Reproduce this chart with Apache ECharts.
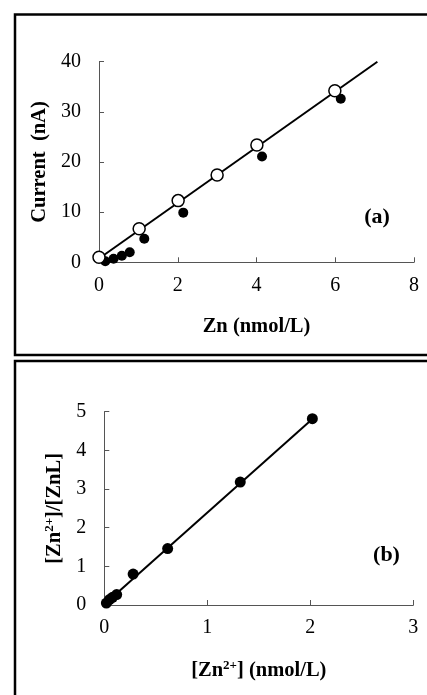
<!DOCTYPE html>
<html><head><meta charset="utf-8">
<script src="https://cdn.jsdelivr.net/npm/echarts@6/dist/echarts.min.js"></script>
<style>html,body{margin:0;padding:0;background:#fff;}#c{width:427px;height:695px;}</style>
</head><body><div id="c"></div>
<script>
// Panel (a)
const xTicksA = [0, 2, 4, 6, 8];
const yTicksA = [0, 10, 20, 30, 40];
const openA = [[0.0, 1.0], [1.02, 6.7], [2.01, 12.3], [3.0, 17.4], [4.01, 23.4], [5.99, 34.2]];
const filledA = [[0.16, 0.2], [0.37, 0.7], [0.58, 1.3], [0.78, 2.0], [1.15, 4.7], [2.14, 9.9], [4.14, 21.1], [6.14, 32.6]];
const fitA = [[0.1, 1.3], [7.07, 40]];
// Panel (b)
const xTicksB = [0, 1, 2, 3];
const yTicksB = [0, 1, 2, 3, 4, 5];
const filledB = [[0.02, 0.05], [0.05, 0.14], [0.08, 0.2], [0.12, 0.27], [0.28, 0.8], [0.615, 1.46], [1.32, 3.18], [2.02, 4.82]];
const fitB = [[0.01, 0.04], [2.02, 4.81]];

const FONT = '"Liberation Serif", "Times New Roman", serif';
const axisCommon = {
  axisLine: {show: true, lineStyle: {color: '#555', width: 1}},
  axisTick: {show: true, inside: true, length: 5, lineStyle: {color: '#555', width: 1}},
  splitLine: {show: false},
  axisLabel: {color: '#000', fontFamily: FONT, fontSize: 20},
  nameLocation: 'middle',
  nameTextStyle: {color: '#000', fontFamily: FONT, fontSize: 20.5, fontWeight: 'bold'}
};
const supRich = {
  sup: {fontSize: 13, fontFamily: FONT, fontWeight: 'bold', color: '#000', verticalAlign: 'bottom', lineHeight: 13, padding: [0, 0, 9, 0]},
  n: {fontSize: 20.5, fontFamily: FONT, fontWeight: 'bold', color: '#000', verticalAlign: 'bottom', lineHeight: 22}
};

const chart = echarts.init(document.getElementById('c'));
chart.setOption({
  backgroundColor: '#fff',
  animation: false,
  grid: [
    {left: 99, top: 61.7, width: 315, height: 200.6},
    {left: 104.3, top: 411.7, width: 309, height: 193.3}
  ],
  xAxis: [
    Object.assign({}, axisCommon, {gridIndex: 0, type: 'value', min: xTicksA[0], max: xTicksA[xTicksA.length - 1], interval: 2,
      axisLabel: Object.assign({}, axisCommon.axisLabel, {margin: 13}),
      name: 'Zn (nmol/L)', nameGap: 54}),
    Object.assign({}, axisCommon, {gridIndex: 1, type: 'value', min: xTicksB[0], max: xTicksB[xTicksB.length - 1], interval: 1,
      axisLabel: Object.assign({}, axisCommon.axisLabel, {margin: 13}),
      name: '{n|[Zn}{sup|2+}{n|] (nmol/L)}', nameGap: 54,
      nameTextStyle: Object.assign({}, axisCommon.nameTextStyle, {rich: supRich})})
  ],
  yAxis: [
    Object.assign({}, axisCommon, {gridIndex: 0, type: 'value', min: yTicksA[0], max: yTicksA[yTicksA.length - 1], interval: 10,
      axisLabel: Object.assign({}, axisCommon.axisLabel, {margin: 18}),
      name: 'Current  (nA)', nameGap: 49}),
    Object.assign({}, axisCommon, {gridIndex: 1, type: 'value', min: yTicksB[0], max: yTicksB[yTicksB.length - 1], interval: 1,
      axisLabel: Object.assign({}, axisCommon.axisLabel, {margin: 18}),
      name: '{n|[Zn}{sup|2+}{n|]/[ZnL]}', nameGap: 37,
      nameTextStyle: Object.assign({}, axisCommon.nameTextStyle, {rich: supRich})})
  ],
  series: [
    {type: 'line', xAxisIndex: 0, yAxisIndex: 0, data: fitA, symbol: 'none', lineStyle: {color: '#000', width: 2}, z: 2},
    {type: 'scatter', xAxisIndex: 0, yAxisIndex: 0, data: filledA, symbol: 'circle', symbolSize: 10, itemStyle: {color: '#000', opacity: 1}, z: 3},
    {type: 'scatter', xAxisIndex: 0, yAxisIndex: 0, data: openA, symbol: 'circle', symbolSize: 12, itemStyle: {color: '#fff', borderColor: '#000', borderWidth: 1.5, opacity: 1}, z: 4},
    {type: 'line', xAxisIndex: 1, yAxisIndex: 1, data: fitB, symbol: 'none', lineStyle: {color: '#000', width: 2}, z: 2},
    {type: 'scatter', xAxisIndex: 1, yAxisIndex: 1, data: filledB, symbol: 'circle', symbolSize: 11, itemStyle: {color: '#000', opacity: 1}, z: 3}
  ],
  graphic: [
    {type: 'rect', shape: {x: 15, y: 14.5, width: 440, height: 340.5}, style: {fill: 'none', stroke: '#000', lineWidth: 2.5}, silent: true},
    {type: 'rect', shape: {x: 15, y: 361, width: 440, height: 400}, style: {fill: 'none', stroke: '#000', lineWidth: 2.5}, silent: true},
    {type: 'text', x: 377, y: 217, style: {text: '(a)', font: 'bold 22px ' + FONT, fill: '#000', textAlign: 'center', textVerticalAlign: 'middle'}},
    {type: 'text', x: 386.5, y: 555, style: {text: '(b)', font: 'bold 22px ' + FONT, fill: '#000', textAlign: 'center', textVerticalAlign: 'middle'}}
  ]
});
</script></body></html>
